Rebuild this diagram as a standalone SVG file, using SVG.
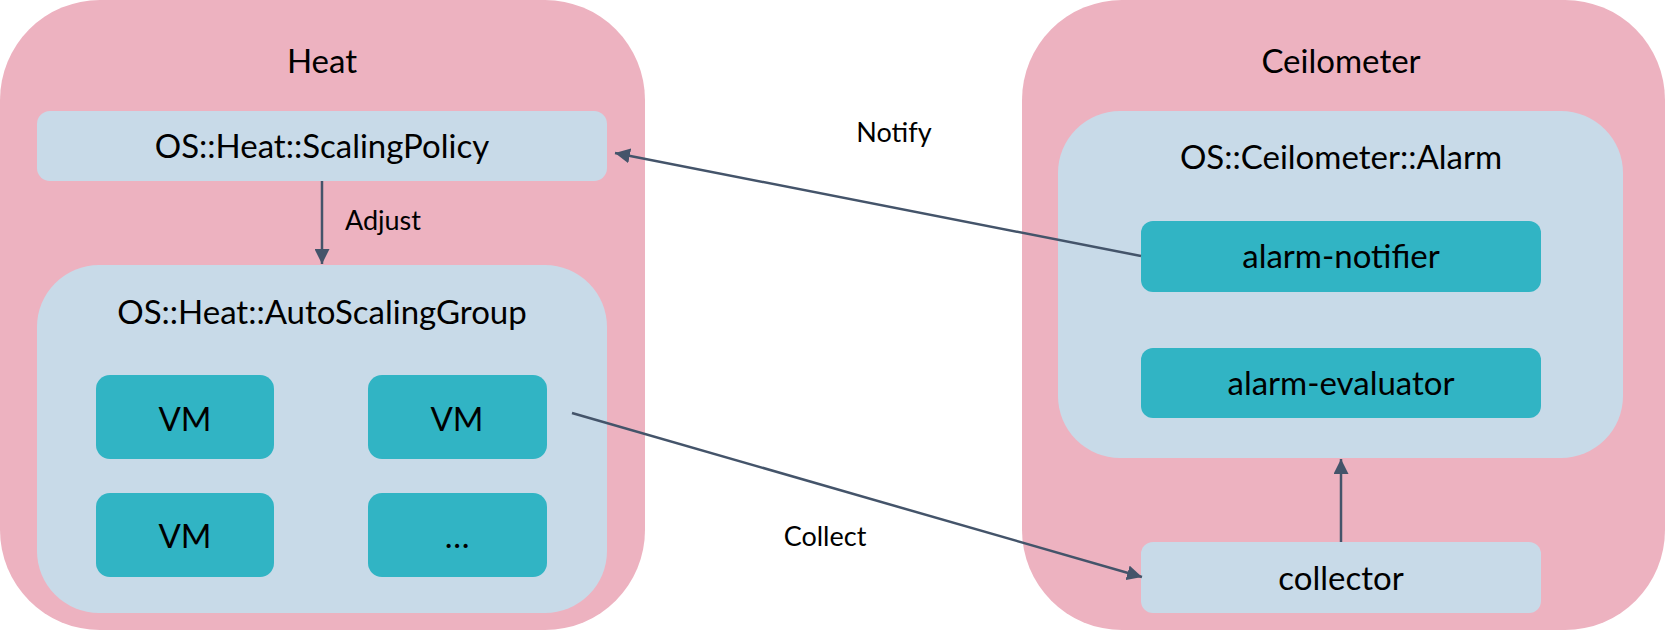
<svg xmlns="http://www.w3.org/2000/svg" width="1665" height="630" viewBox="0 0 1665 630">
<defs>
<style>
.outer{fill:#EDB2C0}
.inner{fill:#C8DAE8}
.item{fill:#31B4C4}
.t{font-family:Lato,"Open Sans","Liberation Sans",sans-serif;fill:#000;text-anchor:middle}
.big{font-size:33px}
.lbl{font-size:27px}
.conn{stroke:#44546A;stroke-width:2.5;fill:none}
</style>
<marker id="arr" viewBox="0 0 10 10" refX="10" refY="5" markerWidth="6" markerHeight="6" markerUnits="strokeWidth" orient="auto">
<path d="M0,0 L10,5 L0,10 z" fill="#44546A"/>
</marker>
</defs>
<rect width="1665" height="630" fill="#fff"/>
<g id="heat">
<rect class="outer" x="0" y="0" width="645" height="630" rx="100" ry="100"/>
<text class="t big" x="322" y="73">Heat</text>
</g>
<g id="scaling-policy">
<rect class="inner" x="37" y="111" width="570" height="70" rx="13"/>
<text class="t big" x="322" y="158">OS::Heat::ScalingPolicy</text>
</g>
<g id="autoscaling-group">
<rect class="inner" x="37" y="265" width="570" height="348" rx="62"/>
<text class="t big" x="322" y="324">OS::Heat::AutoScalingGroup</text>
</g>
<g id="vm1">
<rect class="item" x="96" y="375" width="178" height="84" rx="14"/>
<text class="t big" x="185" y="431">VM</text>
</g>
<g id="vm2">
<rect class="item" x="368" y="375" width="179" height="84" rx="14"/>
<text class="t big" x="457" y="431">VM</text>
</g>
<g id="vm3">
<rect class="item" x="96" y="493" width="178" height="84" rx="14"/>
<text class="t big" x="185" y="548">VM</text>
</g>
<g id="vm4">
<rect class="item" x="368" y="493" width="179" height="84" rx="14"/>
<text class="t big" x="457" y="548">…</text>
</g>
<g id="ceilometer">
<rect class="outer" x="1022" y="0" width="643" height="630" rx="100" ry="100"/>
<text class="t big" x="1341" y="73">Ceilometer</text>
</g>
<g id="alarm">
<rect class="inner" x="1058" y="111" width="565" height="347" rx="62"/>
<text class="t big" x="1341" y="169">OS::Ceilometer::Alarm</text>
</g>
<g id="alarm-notifier">
<rect class="item" x="1141" y="221" width="400" height="71" rx="12"/>
<text class="t big" x="1341" y="268">alarm-notifier</text>
</g>
<g id="alarm-evaluator">
<rect class="item" x="1141" y="348" width="400" height="70" rx="12"/>
<text class="t big" x="1341" y="395">alarm-evaluator</text>
</g>
<g id="collector">
<rect class="inner" x="1141" y="542" width="400" height="71" rx="12"/>
<text class="t big" x="1341" y="590">collector</text>
</g>
<g id="connectors">
<line class="conn" x1="322" y1="181" x2="322" y2="264" marker-end="url(#arr)"/>
<text class="t lbl" x="383" y="230">Adjust</text>
<line class="conn" x1="1141" y1="256" x2="615" y2="153" marker-end="url(#arr)"/>
<text class="t lbl" x="894" y="142">Notify</text>
<line class="conn" x1="572" y1="413" x2="1142" y2="577" marker-end="url(#arr)"/>
<text class="t lbl" x="825" y="546">Collect</text>
<line class="conn" x1="1341" y1="542" x2="1341" y2="459" marker-end="url(#arr)"/>
</g>
</svg>
